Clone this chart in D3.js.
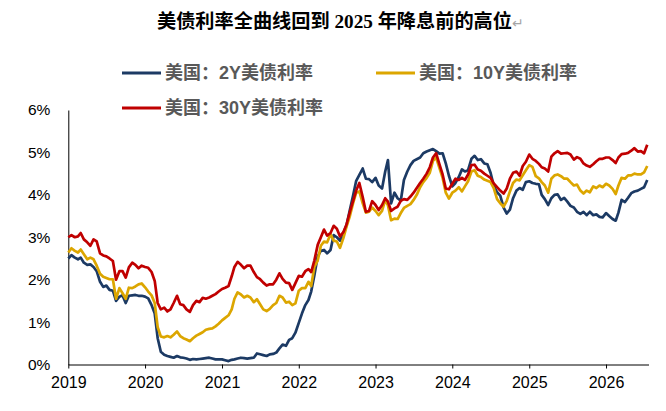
<!DOCTYPE html>
<html>
<head>
<meta charset="utf-8">
<script src="https://cdn.jsdelivr.net/npm/d3@7/dist/d3.min.js"></script>
<style>
body { margin: 0; background: #fff; }
</style>
</head>
<body>
<div id="vis"></div>
<script>
var titleText = "美债利率全曲线回到 2025 年降息前的高位";
var seriesNames = ["美国：2Y美债利率", "美国：10Y美债利率", "美国：30Y美债利率"];
var seriesColors = ["#1c3a64", "#dca600", "#c00000"];
var yearTicks = [2019, 2020, 2021, 2022, 2023, 2024, 2025, 2026];
var rateTicks = [0, 1, 2, 3, 4, 5, 6];

// half-monthly readings (1st and 16th of each month, from Jan 2019), in %
var y2 = [
    2.50, 2.58, 2.52, 2.48, 2.52, 2.40, 2.35, 2.36, 2.30, 2.20,
    1.95, 1.83, 1.86, 1.76, 1.74, 1.50, 1.60, 1.63, 1.45, 1.62,
    1.63, 1.64, 1.62, 1.62, 1.60, 1.56, 1.40, 1.20, 0.62, 0.30,
    0.23, 0.20, 0.18, 0.16, 0.20, 0.17, 0.16, 0.14, 0.11, 0.13,
    0.12, 0.13, 0.14, 0.15, 0.16, 0.14, 0.12, 0.12, 0.12, 0.10,
    0.08, 0.11, 0.12, 0.14, 0.16, 0.15, 0.14, 0.15, 0.16, 0.26,
    0.24, 0.22, 0.20, 0.24, 0.25, 0.28, 0.38, 0.47, 0.44, 0.58,
    0.62, 0.75, 0.98, 1.20, 1.40, 1.52, 1.72, 2.10, 2.55, 2.68,
    2.70, 2.62, 2.70, 3.05, 3.00, 2.92, 3.10, 3.28, 3.65, 3.98,
    4.33, 4.47, 4.62, 4.38, 4.37, 4.30, 4.40, 4.22, 4.15, 4.55,
    4.82, 3.80, 4.05, 3.92, 3.86, 4.35, 4.55, 4.70, 4.80, 4.84,
    4.88, 4.98, 5.02, 5.05, 5.08, 5.03, 4.97, 4.98, 4.74, 4.45,
    4.20, 4.28, 4.42, 4.60, 4.55, 4.58, 4.85, 4.92, 4.82, 4.84,
    4.74, 4.72, 4.52, 4.22, 4.06, 3.98, 3.70, 3.56, 3.65, 3.92,
    4.10, 4.16, 4.12, 4.30, 4.32, 4.28, 4.26, 4.25, 4.00, 3.90,
    3.76, 3.92, 4.00, 4.01, 3.88, 3.93, 3.84, 3.74, 3.70, 3.60,
    3.55, 3.60, 3.52, 3.60, 3.52, 3.54, 3.48, 3.47, 3.57, 3.50,
    3.43, 3.39, 3.58, 3.88, 3.83, 3.93, 4.04, 4.08, 4.10, 4.14,
    4.18, 4.35
];
var y10 = [
    2.64, 2.74, 2.68, 2.64, 2.71, 2.60, 2.48, 2.52, 2.48, 2.33,
    2.14, 2.07, 2.04, 2.01, 2.01, 1.55, 1.80, 1.68, 1.55, 1.81,
    1.80, 1.84, 1.89, 1.91, 1.82, 1.72, 1.63, 1.45, 0.88, 0.66,
    0.64, 0.67, 0.64, 0.70, 0.78, 0.67, 0.62, 0.59, 0.55, 0.62,
    0.68, 0.72, 0.76, 0.82, 0.84, 0.85, 0.90, 0.96, 1.04, 1.10,
    1.16, 1.30, 1.55, 1.70, 1.65, 1.58, 1.62, 1.58, 1.47, 1.54,
    1.42, 1.30, 1.26, 1.31, 1.40, 1.45, 1.62, 1.58, 1.46, 1.48,
    1.40, 1.44, 1.74, 1.80, 1.80, 1.95, 1.85, 2.30, 2.45, 2.80,
    2.90, 2.88, 3.07, 2.92, 2.90, 2.75, 2.98, 3.25, 3.50, 3.80,
    4.05, 4.08, 3.80, 3.58, 3.60, 3.70, 3.62, 3.52, 3.62, 3.88,
    3.75, 3.40, 3.44, 3.43, 3.57, 3.69, 3.74, 3.78, 3.88, 4.00,
    4.18, 4.30, 4.40, 4.52, 4.80, 4.88, 4.63, 4.40, 4.05, 3.91,
    4.05, 4.10, 4.18, 4.08, 4.20, 4.32, 4.55, 4.58, 4.45, 4.42,
    4.36, 4.33, 4.30, 4.16, 3.90, 3.80, 3.72, 3.86, 4.08, 4.28,
    4.36, 4.34, 4.46, 4.58, 4.70, 4.66, 4.44, 4.39, 4.30, 4.22,
    4.05, 4.38, 4.46, 4.48, 4.44, 4.38, 4.38, 4.30, 4.22, 4.24,
    4.10, 4.03, 4.10, 4.06, 4.20, 4.16, 4.22, 4.18, 4.26, 4.22,
    4.14, 4.02, 4.22, 4.40, 4.38, 4.46, 4.46, 4.50, 4.48, 4.48,
    4.53, 4.68
];
var y30 = [
    3.00, 3.05, 3.00, 3.02, 3.10, 2.95, 2.88, 2.80, 2.95, 2.90,
    2.62, 2.57, 2.55, 2.50, 2.44, 2.00, 2.20, 2.20, 2.05, 2.29,
    2.40, 2.35, 2.27, 2.33, 2.30, 2.28, 2.18, 1.97, 1.45, 1.30,
    1.34, 1.25, 1.30, 1.45, 1.62, 1.42, 1.40, 1.30, 1.24, 1.40,
    1.50, 1.47, 1.57, 1.55, 1.58, 1.62, 1.66, 1.72, 1.78, 1.81,
    1.85, 2.08, 2.30, 2.42, 2.35, 2.27, 2.33, 2.33, 2.18, 2.06,
    2.01, 1.93, 1.86, 1.89, 1.89, 2.00, 2.15, 2.02, 1.93, 1.92,
    1.76, 1.92, 2.09, 2.07, 2.20, 2.25, 2.18, 2.45, 2.82, 3.00,
    3.18, 3.04, 3.10, 3.27, 3.20, 3.02, 3.12, 3.30, 3.60, 3.85,
    4.10, 4.28, 3.95, 3.60, 3.62, 3.85, 3.76, 3.64, 3.76, 3.92,
    3.84, 3.62, 3.68, 3.72, 3.86, 3.90, 3.88, 3.96, 4.05, 4.16,
    4.28, 4.38, 4.50, 4.65, 4.88, 4.98, 4.72, 4.48, 4.15, 4.13,
    4.26, 4.38, 4.35, 4.40, 4.35, 4.48, 4.70, 4.71, 4.60, 4.57,
    4.50, 4.45, 4.40, 4.27, 4.18, 4.10, 4.03, 4.15, 4.38, 4.52,
    4.55, 4.45, 4.68, 4.78, 4.95, 4.85, 4.80, 4.73, 4.65, 4.62,
    4.55, 4.90, 4.98, 5.03, 4.97, 4.98, 4.99, 4.95, 4.83, 4.89,
    4.85, 4.74, 4.69, 4.66, 4.72, 4.79, 4.85, 4.85, 4.88, 4.88,
    4.82, 4.75, 4.88, 4.96, 4.97, 4.99, 5.04, 5.10, 5.02, 5.03,
    4.98, 5.18
];

var W = 666, H = 411;
var margin = { top: 110, right: 17.5, bottom: 46.5, left: 68.3 };
var width = W - margin.left - margin.right;
var height = H - margin.top - margin.bottom;

var dates = y2.map(function (d, i) {
    return new Date(2019, Math.floor(i / 2), i % 2 ? 16 : 1);
});
var allSeries = [y2, y10, y30];

var x = d3.scaleTime()
    .domain([new Date(2019, 0, 1), new Date(2026, 6, 22)])
    .range([0, width]);

var y = d3.scaleLinear()
    .domain([0, 6])
    .range([height, 0]);

var svg = d3.select('#vis').append('svg')
    .attr("width", W)
    .attr("height", H)
    .style("display", "block")
    .style("background", "#fff");

// title
var title = svg.append("text")
    .attr("x", 157)
    .attr("y", 28)
    .style("font-family", "'Liberation Serif', 'Noto Sans CJK SC', serif")
    .style("font-size", "19.2px")
    .style("font-weight", "bold")
    .attr("fill", "#000");
title.append("tspan").text(titleText);
title.append("tspan")
    .attr("fill", "#a6a6a6")
    .style("font-weight", "normal")
    .style("font-family", "'DejaVu Sans', sans-serif")
    .style("font-size", "14px")
    .text("↵");

// legend
var legendPos = [[122, 73], [376, 73], [122, 108]];
var legend = svg.append("g").attr("class", "legend");
seriesNames.forEach(function (name, i) {
    var g = legend.append("g")
        .attr("transform", "translate(" + legendPos[i][0] + "," + legendPos[i][1] + ")");
    g.append("line")
        .attr("x1", 0).attr("x2", 39)
        .attr("y1", 0).attr("y2", 0)
        .attr("stroke", seriesColors[i])
        .attr("stroke-width", 3);
    g.append("text")
        .attr("x", 43)
        .attr("y", 0)
        .attr("dy", "0.36em")
        .style("font-family", "'Liberation Sans', 'Noto Sans CJK SC', sans-serif")
        .style("font-size", "18px")
        .style("font-weight", "bold")
        .attr("fill", "#595959")
        .text(name);
});

var vis = svg.append('g')
    .attr("transform", "translate(" + margin.left + "," + margin.top + ")");

var xAxis = d3.axisBottom(x)
    .tickValues(yearTicks.map(function (d) { return new Date(d, 0, 1); }))
    .tickFormat(d3.timeFormat("%Y"))
    .tickSize(4)
    .tickSizeOuter(0)
    .tickPadding(8);

var yAxis = d3.axisLeft(y)
    .tickValues(rateTicks)
    .tickFormat(function (d) { return d + "%"; })
    .tickSize(0)
    .tickPadding(18);

var gx = vis.append("g")
    .attr("transform", "translate(0," + height + ")")
    .call(xAxis);
var gy = vis.append("g")
    .call(yAxis);

[gx, gy].forEach(function (g) {
    g.selectAll("text")
        .style("font-family", "'Liberation Sans', Arial, sans-serif")
        .attr("fill", "#000");
    g.selectAll("path, line").attr("stroke", "#000").attr("stroke-width", 1);
});
gx.selectAll("text").style("font-size", "16px");
gy.selectAll("text").style("font-size", "15.5px");

var line = d3.line()
    .x(function (d) { return x(d[0]); })
    .y(function (d) { return y(d[1]); });

allSeries.forEach(function (vals, i) {
    vis.append("path")
        .datum(vals.map(function (v, j) { return [dates[j], v]; }))
        .attr("fill", "none")
        .attr("stroke", seriesColors[i])
        .attr("stroke-width", 2.7)
        .attr("stroke-linejoin", "round")
        .attr("d", line);
});
</script>
</body>
</html>
